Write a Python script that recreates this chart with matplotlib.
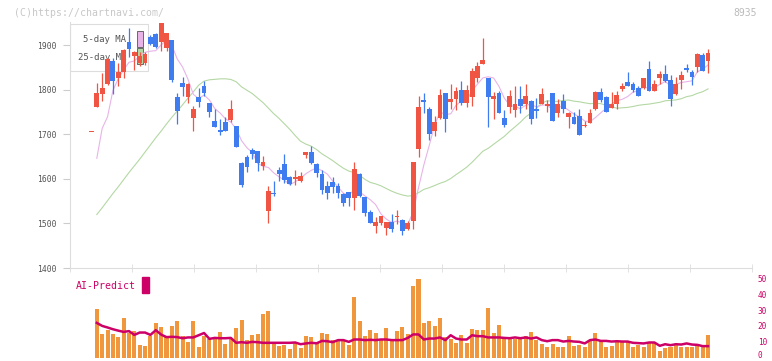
import matplotlib.pyplot as plt
import numpy as np
import pandas as pd
from matplotlib.patches import Rectangle

plt.rcParams['font.family'] = ['DejaVu Sans Mono']

# daily candles (oldest first), last one is 7/29
opens = [1704, 1762, 1791, 1813, 1865, 1827, 1839, 1907, 1876, 1859, 1859,
         1919, 1925, 1907, 1893, 1911, 1783, 1814, 1784, 1737, 1784,
         1808, 1769, 1730, 1709, 1727, 1732, 1718, 1636, 1648, 1665,
         1662, 1629, 1528, 1569, 1620, 1633, 1604, 1599, 1594, 1653,
         1660, 1633, 1611, 1584, 1592, 1583, 1566, 1570, 1558, 1611,
         1559, 1526, 1495, 1501, 1490, 1503, 1514, 1508, 1487, 1505,
         1667, 1774, 1757, 1707, 1736, 1792, 1772, 1778, 1799, 1771,
         1784, 1827, 1858, 1825, 1778, 1792, 1736, 1762, 1754, 1779,
         1767, 1774, 1754, 1768, 1764, 1792, 1748, 1774, 1739, 1739,
         1741, 1718, 1726, 1757, 1795, 1783, 1759, 1767, 1801, 1817,
         1813, 1804, 1804, 1846, 1798, 1826, 1835, 1822, 1790, 1822,
         1847, 1840, 1851, 1878, 1864]
highs = [1705, 1814, 1837, 1870, 1870, 1859, 1892, 1939, 1886, 1885, 1884,
         1922, 1927, 1949, 1926, 1912, 1793, 1828, 1815, 1763, 1803,
         1819, 1770, 1756, 1733, 1738, 1777, 1718, 1637, 1654, 1668,
         1663, 1651, 1583, 1595, 1627, 1656, 1606, 1620, 1615, 1661,
         1674, 1635, 1620, 1594, 1605, 1590, 1568, 1571, 1637, 1613,
         1560, 1530, 1515, 1517, 1504, 1521, 1530, 1509, 1505, 1638,
         1786, 1792, 1760, 1741, 1801, 1793, 1813, 1806, 1819, 1810,
         1849, 1863, 1916, 1826, 1795, 1798, 1754, 1799, 1808, 1808,
         1813, 1776, 1781, 1804, 1777, 1793, 1779, 1790, 1749, 1749,
         1757, 1730, 1757, 1796, 1804, 1786, 1795, 1797, 1814, 1840,
         1817, 1808, 1827, 1864, 1822, 1842, 1855, 1833, 1829, 1842,
         1857, 1844, 1881, 1881, 1891]
lows = [1704, 1760, 1775, 1810, 1790, 1807, 1826, 1872, 1844, 1852, 1855,
        1900, 1893, 1887, 1887, 1818, 1723, 1786, 1769, 1708, 1760,
        1786, 1739, 1716, 1699, 1707, 1727, 1672, 1582, 1616, 1645,
        1618, 1620, 1502, 1562, 1596, 1590, 1585, 1586, 1593, 1646,
        1634, 1605, 1565, 1555, 1568, 1556, 1540, 1539, 1530, 1560,
        1517, 1501, 1478, 1497, 1473, 1481, 1499, 1473, 1485, 1487,
        1650, 1748, 1688, 1696, 1734, 1705, 1756, 1754, 1765, 1762,
        1764, 1818, 1858, 1717, 1735, 1747, 1717, 1747, 1739, 1748,
        1756, 1724, 1737, 1767, 1749, 1729, 1739, 1747, 1715, 1723,
        1698, 1717, 1725, 1755, 1772, 1749, 1758, 1757, 1797, 1807,
        1795, 1785, 1801, 1797, 1797, 1813, 1818, 1763, 1789, 1801,
        1840, 1810, 1840, 1841, 1837]
closes = [1705, 1792, 1804, 1869, 1819, 1839, 1889, 1890, 1884, 1876, 1879,
          1902, 1896, 1949, 1926, 1822, 1751, 1805, 1813, 1756, 1773,
          1792, 1750, 1717, 1705, 1708, 1756, 1672, 1586, 1626, 1655,
          1635, 1638, 1573, 1565, 1611, 1597, 1588, 1605, 1607, 1660,
          1635, 1614, 1575, 1569, 1581, 1568, 1545, 1558, 1621, 1561,
          1524, 1502, 1503, 1516, 1503, 1487, 1517, 1482, 1502, 1638,
          1761, 1773, 1700, 1727, 1788, 1734, 1779, 1797, 1771, 1799,
          1842, 1853, 1866, 1784, 1786, 1748, 1721, 1786, 1768, 1763,
          1786, 1735, 1752, 1790, 1766, 1730, 1768, 1756, 1748, 1724,
          1699, 1721, 1748, 1795, 1777, 1750, 1768, 1788, 1808, 1808,
          1799, 1786, 1826, 1798, 1813, 1835, 1819, 1779, 1813, 1833,
          1845, 1828, 1880, 1842, 1882]

# moving averages where the window reaches back before the first candle
ma5_head = [np.nan, 1646, 1713, 1739]
ma25_head = [np.nan, 1520, 1535, 1551, 1567, 1582, 1598, 1614, 1629, 1644,
             1660, 1676, 1692, 1707, 1723, 1738, 1752, 1766, 1781, 1795,
             1810, 1819, 1822, 1823]

volume = [0, 30.6, 14.8, 17.7, 14.8, 13.1, 24.9, 15.6, 16.7, 7.8, 7.2,
          13.5, 21.7, 19.2, 12.7, 19.8, 23.0, 13.5, 9.9, 23.0, 6.8,
          13.5, 11.4, 12.7, 16.0, 8.4, 11.4, 18.6, 23.6, 11.0, 14.1,
          14.8, 27.4, 29.3, 8.9, 7.4, 8.2, 5.5, 9.7, 6.1, 13.5,
          12.7, 9.9, 15.4, 14.8, 11.0, 11.0, 11.0, 7.8, 38.4, 23.0,
          13.5, 17.3, 15.6, 12.0, 18.8, 10.5, 16.9, 19.0, 14.8, 45.1,
          49.6, 21.9, 23.2, 19.8, 24.9, 12.7, 11.6, 9.3, 14.1, 9.3,
          17.9, 17.3, 17.3, 31.2, 15.6, 20.5, 11.4, 11.4, 11.4, 11.4,
          13.9, 16.0, 11.0, 8.4, 6.8, 8.4, 6.8, 6.8, 13.5, 7.2,
          7.8, 6.8, 11.0, 15.6, 10.5, 6.8, 7.4, 9.9, 9.9, 9.9,
          6.8, 8.2, 6.8, 9.9, 9.9, 4.2, 6.1, 6.8, 8.2, 6.8,
          6.8, 6.8, 7.4, 6.8, 14.1]
ai_predict = [np.nan, 21.9, 20.0, 19.0, 17.9, 17.0, 16.2, 16.7, 14.3, 15.8, 15.8,
              14.3, 17.3, 14.5, 12.9, 13.1, 12.9, 12.2, 12.7, 12.7, 14.1,
              15.5, 11.8, 12.4, 12.2, 12.2, 12.4, 9.3, 9.7, 9.3, 9.9,
              9.7, 9.3, 9.3, 9.3, 9.3, 9.3, 9.3, 9.5, 8.4, 8.9,
              9.3, 9.0, 10.5, 10.3, 9.7, 11.0, 11.0, 9.9, 11.4, 11.4,
              11.0, 11.2, 11.0, 11.4, 11.4, 11.0, 11.0, 11.0, 12.4, 14.6,
              14.6, 11.4, 12.0, 12.0, 12.7, 11.0, 14.1, 12.0, 11.4, 11.4,
              14.1, 13.5, 13.5, 12.7, 12.7, 12.7, 12.4, 12.2, 12.7, 12.2,
              12.7, 12.0, 12.7, 11.0, 10.3, 11.0, 11.0, 10.1, 10.5, 10.1,
              9.9, 8.9, 11.0, 11.4, 10.5, 10.5, 10.1, 10.3, 10.1, 10.1,
              9.3, 9.1, 8.9, 9.5, 9.5, 7.4, 8.4, 7.8, 8.4, 8.2,
              8.9, 8.2, 8.0, 7.2, 7.2]

date_pos = [15, 25, 35, 45, 55, 65, 75, 85, 95, 105, 115]
date_labels = ["3/3", "3/17", "4/1", "4/15", "4/30", "5/19", "6/2", "6/16",
               "6/30", "7/14", "7/29"]
vol_ticks = [0, 10, 20, 30, 40, 50]

RED = '#f05442'
BLUE = '#3f7cf0'
PINK = '#e8b4e8'
GREEN = '#b4d8a4'
MAGENTA = '#cc0066'
ORANGE = '#f0963c'

W, H = 772, 361
fig = plt.figure(figsize=(W / 100, H / 100), dpi=100)


def box(l, t, r, b):
    return [l / W, 1 - b / H, (r - l) / W, (b - t) / H]


ax = fig.add_axes(box(70, 22, 752, 268))
axv = fig.add_axes(box(70, 278.5, 752, 357.5))

n = len(closes)
idx = np.arange(n)
o = np.array(opens, float)
c = np.array(closes, float)
hi = np.array(highs, float)
lo = np.array(lows, float)

ma5 = pd.Series(c).rolling(5).mean().to_numpy()
ma5[:len(ma5_head)] = ma5_head
ma25 = pd.Series(c).rolling(25).mean().to_numpy()
ma25[:len(ma25_head)] = ma25_head

colors = [RED if cc >= oo else BLUE for oo, cc in zip(o, c)]
body_lo = np.minimum(o, c)
body_h = np.maximum(np.abs(c - o), 3.5)

ax.plot(idx, ma25, color=GREEN, lw=0.8, zorder=2)
ax.plot(idx, ma5, color=PINK, lw=0.8, zorder=2)
ax.vlines(idx, lo, hi, colors=colors, lw=0.9, zorder=3)
ax.bar(idx, body_h, bottom=body_lo, width=0.9, color=colors, zorder=4)

xlim = (-4.0, 123.2)
ax.set_xlim(*xlim)
ax.set_ylim(1400, 1951.6)
for s in ['top', 'right']:
    ax.spines[s].set_visible(False)
for s in ['left', 'bottom']:
    ax.spines[s].set_color('#dddddd')
ax.set_yticks([1400, 1500, 1600, 1700, 1800, 1900])
ax.tick_params(axis='y', length=5, color='#cccccc', labelsize=5.8,
               labelcolor='#555555', pad=5)
ax.set_xticks(date_pos)
ax.set_xticklabels(date_labels)
ax.tick_params(axis='x', which='major', length=0, labelsize=5.8,
               labelcolor='#555555', pad=8)
ax.set_xticks(np.linspace(xlim[0], xlim[1], 12), minor=True)
ax.tick_params(axis='x', which='minor', length=6, direction='inout',
               color='#dddddd')


# legend box, drawn under the candles
def axx(x):
    return (x - 70) / 682


def axy(y):
    return (268 - y) / 246


ax.add_patch(Rectangle((axx(70), axy(71)), axx(148) - axx(70), axy(24) - axy(71),
                       transform=ax.transAxes, facecolor='white',
                       edgecolor='#dddddd', lw=0.8, zorder=1))
ax.text(axx(126), axy(40), "5-day MA", transform=ax.transAxes, ha='right',
        va='center', fontsize=6.5, color='#555555', zorder=1.5)
ax.text(axx(126), axy(57), "25-day MA", transform=ax.transAxes, ha='right',
        va='center', fontsize=6.5, color='#555555', zorder=1.5)
ax.add_patch(Rectangle((axx(137), axy(46.5)), axx(143) - axx(137), axy(31) - axy(46.5),
                       transform=ax.transAxes, facecolor=PINK,
                       edgecolor='#555555', lw=0.6, zorder=1.5))
ax.add_patch(Rectangle((axx(137), axy(63.5)), axx(143) - axx(137), axy(48) - axy(63.5),
                       transform=ax.transAxes, facecolor=GREEN,
                       edgecolor='#555555', lw=0.6, zorder=1.5))

# volume + AI predict panel
axv.bar(idx, volume, width=0.75, color=ORANGE, zorder=2)
axv.plot(idx, ai_predict, color=MAGENTA, lw=1.8, zorder=3)
axv.set_xlim(*xlim)
axv.set_ylim(0, 50)
for s in axv.spines.values():
    s.set_visible(False)
axv.set_xticks([])
axv.yaxis.tick_right()
axv.set_yticks(vol_ticks)
axv.set_yticklabels([''] + [str(v) for v in vol_ticks[1:]])
axv.tick_params(axis='y', length=0, labelsize=5.6, labelcolor=MAGENTA, pad=4)
# the bottom label sits right at the figure edge, keep it inside
fig.text(757 / W, 1 - 360.5 / H, str(vol_ticks[0]), fontsize=5.6,
         color=MAGENTA, ha='left', va='bottom')

fig.text(76 / W, 1 - 286 / H, "AI-Predict", fontsize=7.1, color=MAGENTA,
         ha='left', va='center')
fig.add_artist(Rectangle((142.3 / W, 1 - 292.7 / H), 6.4 / W, 16 / H,
                         transform=fig.transFigure, color=MAGENTA))

fig.text(14 / W, 1 - 12.5 / H, "(C)https://chartnavi.com/", fontsize=7.1,
         color='#c8c8c8', ha='left', va='center')
fig.text(757 / W, 1 - 12.5 / H, "8935", fontsize=7.0, color='#bbbbbb',
         ha='right', va='center')

fig.savefig('out.png', dpi=100)
